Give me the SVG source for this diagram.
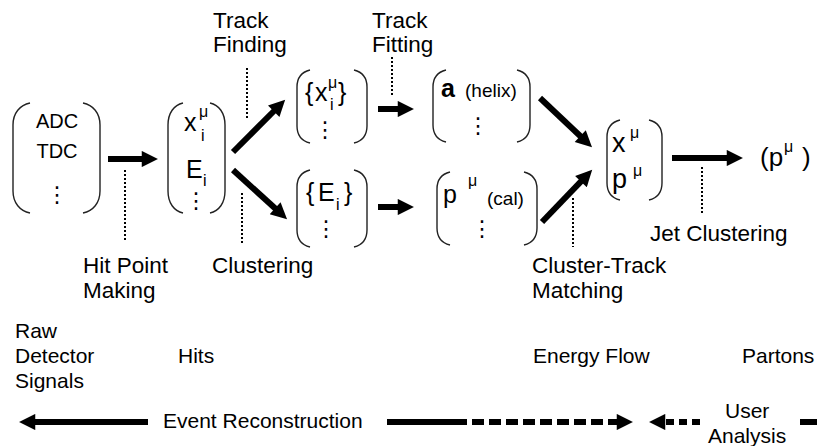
<svg xmlns="http://www.w3.org/2000/svg" width="817" height="446" viewBox="0 0 817 446">
<defs>
<style>
.t{font-family:"Liberation Sans",Arial,sans-serif;fill:#000}
.lbl{font-size:22.5px}
.bot{font-size:21px}
.m{font-size:25px}
.s{font-size:16px}
.sm{font-size:19px}
.d{font-family:"DejaVu Sans",sans-serif;font-size:22px;text-anchor:middle;fill:#000}
.br{fill:none;stroke:#222;stroke-width:1.4}
.ar{stroke:#000;stroke-width:6;fill:none;marker-end:url(#ah)}
.dt{stroke:#000;stroke-width:2;stroke-dasharray:2 2;fill:none}
</style>
<marker id="ah" viewBox="0 0 10 10" refX="2" refY="5" markerWidth="3.5" markerHeight="2.7" orient="auto">
<path d="M0,0 L10,5 L0,10 z" fill="#000"/>
</marker>
</defs>
<rect width="817" height="446" fill="#fff"/>

<g id="n1">
<path class="br" d="M30,103 C20,105 13,113 13,125 L13,191 C13,203 20,211 30,213"/>
<path class="br" d="M83,103 C93,105 100,113 100,125 L100,191 C100,203 93,211 83,213"/>
<text class="t" x="57" y="128" font-size="20" text-anchor="middle">ADC</text>
<text class="t" x="57" y="158" font-size="20" text-anchor="middle">TDC</text>
<text class="d" x="57" y="202">⋮</text>
</g>

<g id="n2">
<path class="br" d="M183,103 C174,105 168,113 168,125 L168,191 C168,203 174,211 183,213"/>
<path class="br" d="M210,103 C219,105 225,113 225,125 L225,191 C225,203 219,211 210,213"/>
<text class="t m" x="184" y="131">x</text>
<text class="t s" x="199" y="117">μ</text>
<text class="t s" x="201" y="141">i</text>
<text class="t m" x="186" y="178">E</text>
<text class="t s" x="203" y="186">i</text>
<text class="d" x="196" y="208">⋮</text>
</g>

<g id="n3">
<path class="br" d="M310,70 C302,72 297,78 297,87 L297,126 C297,135 302,141 310,143"/>
<path class="br" d="M354,70 C362,72 367,78 367,87 L367,126 C367,135 362,141 354,143"/>
<text class="t m" x="305" y="101">{</text>
<text class="t m" x="315" y="101">x</text>
<text class="t s" x="328" y="88">μ</text>
<text class="t s" x="330" y="110">i</text>
<text class="t m" x="338" y="101">}</text>
<text class="d" x="325" y="137">⋮</text>
</g>

<g id="n4">
<path class="br" d="M310,170 C302,172 297,178 297,187 L297,230 C297,239 302,245 310,247"/>
<path class="br" d="M354,170 C362,172 367,178 367,187 L367,230 C367,239 362,245 354,247"/>
<text class="t m" x="306" y="201">{</text>
<text class="t m" x="318" y="201">E</text>
<text class="t s" x="336" y="210">i</text>
<text class="t m" x="344" y="201">}</text>
<text class="d" x="326" y="236">⋮</text>
</g>

<g id="n5">
<path class="br" d="M446,70 C438,72 433,78 433,87 L433,125 C433,134 438,140 446,142"/>
<path class="br" d="M517,70 C525,72 530,78 530,87 L530,125 C530,134 525,140 517,142"/>
<text class="t m" x="441" y="97" font-weight="bold">a</text>
<text class="t sm" x="465" y="97">(helix)</text>
<text class="d" x="478" y="133">⋮</text>
</g>

<g id="n6">
<path class="br" d="M450,172 C442,174 437,180 437,189 L437,228 C437,237 442,243 450,245"/>
<path class="br" d="M524,172 C532,174 537,180 537,189 L537,228 C537,237 532,243 524,245"/>
<text class="t m" x="443" y="203">p</text>
<text class="t s" x="468" y="186">μ</text>
<text class="t sm" x="487" y="205">(cal)</text>
<text class="d" x="482" y="236">⋮</text>
</g>

<g id="n7">
<path class="br" d="M620,120 C612,122 607,128 607,137 L607,183 C607,192 612,198 620,200"/>
<path class="br" d="M649,120 C657,122 662,128 662,137 L662,183 C662,192 657,198 649,200"/>
<text class="t" x="612" y="152" font-size="27">x</text>
<text class="t s" x="630" y="138">μ</text>
<text class="t" x="612" y="188" font-size="27">p</text>
<text class="t s" x="633" y="176">μ</text>
</g>

<g id="n8">
<text class="t" x="760" y="166" font-size="26">(p</text>
<text class="t s" x="784" y="152">μ</text>
<text class="t" x="802" y="166" font-size="26">)</text>
</g>

<g id="connectors">
<line class="ar" x1="108" y1="159" x2="145" y2="159"/>
<line class="ar" x1="233" y1="152" x2="276" y2="109"/>
<line class="ar" x1="233" y1="170" x2="277.5" y2="210.5"/>
<line class="ar" x1="378" y1="109" x2="401" y2="109"/>
<line class="ar" x1="378" y1="207" x2="401" y2="207"/>
<line class="ar" x1="540" y1="98" x2="582.6" y2="138.3"/>
<line class="ar" x1="542" y1="222" x2="583.2" y2="179.2"/>
<line class="ar" x1="672" y1="158" x2="730" y2="158"/>
<line class="dt" x1="247" y1="68" x2="247" y2="118"/>
<line class="dt" x1="392" y1="57" x2="392" y2="97"/>
<line class="dt" x1="125" y1="170" x2="125" y2="242"/>
<line class="dt" x1="242" y1="193" x2="242" y2="243"/>
<line class="dt" x1="573" y1="198" x2="573" y2="247"/>
<line class="dt" x1="702" y1="167" x2="702" y2="215"/>
<line class="ar" x1="148" y1="422" x2="32" y2="422"/>
<line stroke="#000" stroke-width="6" x1="387" y1="422" x2="460" y2="422"/>
<line class="ar" stroke-dasharray="12 5" x1="455" y1="422" x2="620" y2="422"/>
<line class="ar" stroke-dasharray="8 5" x1="700" y1="422" x2="662" y2="422"/>
<line stroke="#000" stroke-width="6" x1="800" y1="422" x2="817" y2="422"/>
</g>

<g id="labels">
<text class="t lbl" x="213" y="28">Track</text>
<text class="t lbl" x="213" y="52">Finding</text>
<text class="t lbl" x="372" y="28">Track</text>
<text class="t lbl" x="372" y="52">Fitting</text>
<text class="t lbl" x="83" y="273">Hit Point</text>
<text class="t lbl" x="83" y="298">Making</text>
<text class="t lbl" x="212" y="273">Clustering</text>
<text class="t lbl" x="532" y="273">Cluster-Track</text>
<text class="t lbl" x="532" y="298">Matching</text>
<text class="t lbl" x="650" y="241">Jet Clustering</text>
<text class="t bot" x="15" y="338">Raw</text>
<text class="t bot" x="15" y="363">Detector</text>
<text class="t bot" x="15" y="388">Signals</text>
<text class="t bot" x="178" y="363">Hits</text>
<text class="t bot" x="533" y="363">Energy Flow</text>
<text class="t bot" x="742" y="363">Partons</text>
<text class="t bot" x="163" y="428">Event Reconstruction</text>
<text class="t bot" x="725" y="418">User</text>
<text class="t bot" x="708" y="443">Analysis</text>
</g>
</svg>
